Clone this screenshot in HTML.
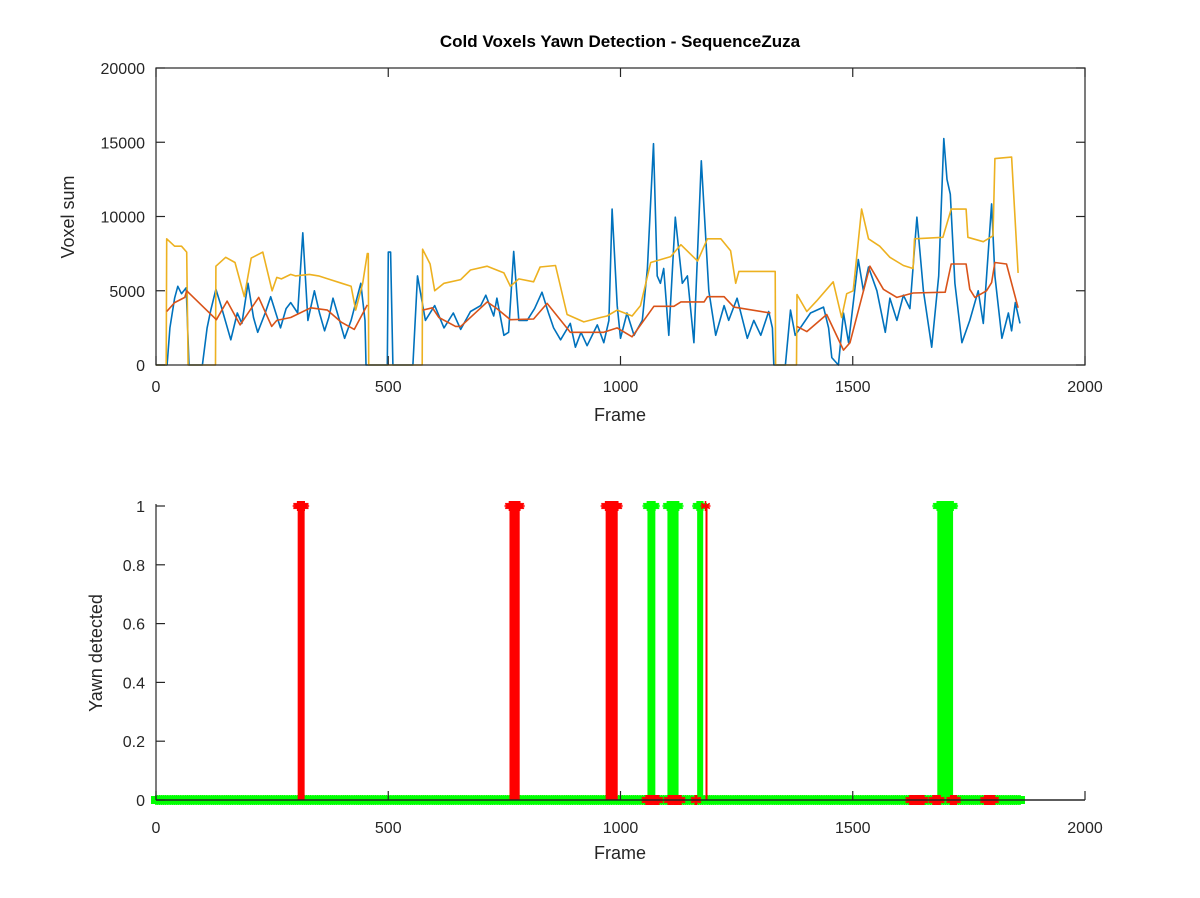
<!DOCTYPE html>
<html><head><meta charset="utf-8"><style>
body{margin:0;background:#fff;}
svg{display:block;font-family:"Liberation Sans",sans-serif;}
</style></head><body>
<svg id="chart" width="1200" height="898" viewBox="0 0 1200 898">
<rect x="0" y="0" width="1200" height="898" fill="#fff"/>
<text x="620" y="47" text-anchor="middle" font-size="17" font-weight="bold" fill="#000">Cold Voxels Yawn Detection - SequenceZuza</text>
<g id="topPlot"></g>
<g id="botPlot"></g>
</svg>
<script>
// ---- top plot data (frame, value) ----
const blueFrames=[0,24,30,40,47,55,65,71,100,110,118,129,140,161,175,185,198,210,219,235,247,258,268,280,290,305,316,327,341,352,363,372,381,395,406,420,441,450,452,498,500,505,510,553,563,580,600,620,640,656,677,699,710,727,734,749,759,770,781,799,815,831,845,856,871,892,903,915,928,950,964,975,982,993,1000,1014,1029,1047,1058,1071,1079,1086,1093,1104,1118,1133,1144,1158,1174,1190,1205,1223,1233,1251,1273,1287,1302,1319,1327,1330,1355,1366,1376,1387,1409,1437,1448,1455,1469,1480,1491,1512,1523,1534,1552,1570,1580,1595,1609,1623,1638,1652,1670,1685,1696,1703,1710,1720,1735,1752,1770,1781,1799,1806,1821,1835,1842,1850,1860];
const blueValues=[0,0,2500,4500,5300,4800,5200,0,0,2500,3700,5100,4000,1700,3500,2800,5500,3200,2200,3500,4600,3500,2500,3800,4200,3500,8900,3000,5000,3500,2300,3200,4500,3000,1800,3000,5500,3000,0,0,7600,7600,0,0,6000,3000,4000,2500,3500,2400,3600,4000,4700,3300,4500,2000,2200,7650,3000,3000,3800,4900,3500,2500,1700,2800,1200,2200,1300,2700,1500,3000,10500,4000,1800,3500,2000,3000,6500,14900,6000,5500,6500,2000,9950,5500,6000,1500,13750,5000,2000,4000,3000,4500,1800,3000,2000,3600,2500,0,0,3700,2000,2500,3500,3900,2500,500,0,3500,1500,7100,5000,6600,5000,2200,4500,3000,4700,3800,9950,5000,1200,6000,15250,12500,11500,5500,1500,3000,5000,2800,10850,6000,1800,3500,2300,4200,2800];
const yelFrames=[0,22,23,40,55,66,69,128,129,150,170,190,205,230,250,260,270,290,300,330,350,370,400,420,430,445,455,457,458,573,574,590,600,620,656,677,713,749,763,781,813,827,860,885,921,957,971,993,1025,1043,1065,1108,1130,1166,1187,1216,1237,1248,1255,1323,1333,1334,1379,1380,1401,1422,1458,1476,1487,1501,1519,1534,1558,1580,1609,1630,1633,1694,1712,1744,1748,1781,1802,1806,1842,1856];
const yelValues=[0,0,8500,8000,8000,7600,0,0,6650,7250,6900,4600,7200,7600,5000,5900,5800,6100,6000,6100,6000,5800,5500,5300,3700,5500,7500,7500,0,0,7800,6800,5000,5500,5750,6400,6650,6200,5300,5800,5600,6600,6700,3400,2900,3200,3300,3700,3300,4000,6900,7300,8100,7000,8500,8500,7700,5500,6300,6300,6300,0,0,4750,3600,4300,5600,3200,4800,5000,10500,8500,8000,7250,6700,6500,8500,8600,10500,10500,8600,8300,8700,13900,14000,6200];
const redFrames=[23,40,62,66,130,153,181,221,249,260,290,333,369,398,427,455,null,574,595,609,645,656,713,734,763,813,842,892,964,993,1025,1072,1115,1130,1180,1187,1223,1244,1323,null,1380,1401,1444,1480,1494,1537,1566,1595,1630,1699,1712,1744,1752,1763,1788,1799,1806,1831,1856];
const redValues=[3600,4200,4550,5000,3050,4300,2700,4550,2600,3000,3200,3850,3700,2900,2400,4050,null,3700,3850,3200,2600,2600,4250,3800,3050,3100,4150,2200,2200,2500,1900,3950,3950,4250,4250,4600,4600,3900,3500,null,2600,2250,3400,1000,1500,6650,5100,4550,4850,4900,6800,6800,5100,4550,5000,5550,6900,6800,3850];
const xTicks=[0,500,1000,1500,2000];
const yTicksTop=[0,5000,10000,15000,20000];
// ---- bottom plot data (frame ranges) ----
const greenOnes=[[1058,1075],[1101,1125],[1165,1178],[1682,1716]];
const redOnes=[[305,320],[761,783],[968,994],[1183,1184]];
const redZeroStars=[[1055,1083],[1103,1130],[1161,1166],[1623,1654],[1673,1689],[1711,1725],[1784,1805]];
const frameMax=1860;
const yTicksBot=[0,0.2,0.4,0.6,0.8,1];

const NS="http://www.w3.org/2000/svg";
function mk(p,tag,a){const e=document.createElementNS(NS,tag);for(const k in a)e.setAttribute(k,a[k]);p.appendChild(e);return e;}
const L=156,R=1085;
const xs=f=>L+(f/2000)*(R-L);
const T1=68,B1=365;
const ys1=v=>B1-(v/20000)*(B1-T1);
const T2=506,B2=800;
const ys2=v=>B2-v*(B2-T2);
const topG=document.getElementById('topPlot'),botG=document.getElementById('botPlot');
const AX="#262626";

function line(g,fr,vals,color,name){
  let d="",pen=false;
  for(let i=0;i<fr.length;i++){
    if(fr[i]===null){pen=false;continue;}
    d+=(pen?"L":"M")+xs(fr[i]).toFixed(1)+","+ys1(vals[i]).toFixed(1);pen=true;
  }
  const p=mk(g,'path',{d:d,fill:'none',stroke:color,'stroke-width':1.6,'stroke-linejoin':'round'});
  
  
}
line(topG,blueFrames,blueValues,'#0072BD','voxel-sum-line');
line(topG,yelFrames,yelValues,'#EDB120','upper-threshold-line');
line(topG,redFrames,redValues,'#D95319','moving-average-line');

const box=mk(topG,'rect',{x:L,y:T1,width:R-L,height:B1-T1,fill:'none',stroke:AX,'stroke-width':1.2});


xTicks.forEach(t=>{
  const x=xs(t);
  mk(topG,'line',{x1:x,y1:B1,x2:x,y2:B1-9,stroke:AX,'stroke-width':1.2});
  mk(topG,'line',{x1:x,y1:T1,x2:x,y2:T1+9,stroke:AX,'stroke-width':1.2});
  const tx=mk(topG,'text',{x:x,y:B1+27,'text-anchor':'middle','font-size':16,fill:AX});
  tx.textContent=t;
  
  
});
yTicksTop.forEach(t=>{
  const y=ys1(t);
  mk(topG,'line',{x1:L,y1:y,x2:L+9,y2:y,stroke:AX,'stroke-width':1.2});
  mk(topG,'line',{x1:R,y1:y,x2:R-9,y2:y,stroke:AX,'stroke-width':1.2});
  const tx=mk(topG,'text',{x:145,y:y+6,'text-anchor':'end','font-size':16,fill:AX});
  tx.textContent=t;
  
  
});
const t1=mk(topG,'text',{x:620,y:421,'text-anchor':'middle','font-size':18,fill:AX});t1.textContent='Frame';


const t2=mk(topG,'text',{x:0,y:0,'text-anchor':'middle','font-size':18,fill:AX,transform:'translate(74,217) rotate(-90)'});t2.textContent='Voxel sum';



// ---- bottom plot ----
function star(g,x,y,c){
  const r=5,d=[];
  for(let k=0;k<3;k++){const a=Math.PI/6+k*Math.PI/3;d.push(`M${x-r*Math.cos(a)},${y-r*Math.sin(a)}L${x+r*Math.cos(a)},${y+r*Math.sin(a)}`);}
  d.push(`M${x-r},${y}L${x+r},${y}`);
  mk(g,'path',{d:d.join(''),stroke:c,'stroke-width':1.6,fill:'none'});
}
const G='#00FF00',RD='#FF0000';
const band=mk(botG,'rect',{x:xs(0)-5,y:B2-4,width:xs(frameMax)-xs(0)+10,height:8,fill:G});


for(let f=0;f<=frameMax;f+=4) star(botG,xs(f),B2,G);
greenOnes.forEach(r=>{
  const b=mk(botG,'rect',{x:xs(r[0]),y:T2,width:Math.max(2,xs(r[1])-xs(r[0])),height:B2-T2,fill:G});
  
  
  for(let f=r[0];f<=r[1];f+=2) star(botG,xs(f),T2,G);
});
redZeroStars.forEach(r=>{for(let f=r[0];f<=r[1];f+=3) star(botG,xs(f),B2,RD);});
redOnes.forEach(r=>{
  const b=mk(botG,'rect',{x:xs(r[0]),y:T2,width:Math.max(2,xs(r[1])-xs(r[0])),height:B2-T2,fill:RD});
  
  
  for(let f=r[0];f<=r[1];f+=2) star(botG,xs(f),T2,RD);
});
mk(botG,'line',{x1:L,y1:T2-2,x2:L,y2:B2,stroke:AX,'stroke-width':1.2});
mk(botG,'line',{x1:L,y1:B2,x2:R,y2:B2,stroke:AX,'stroke-width':1.6});
xTicks.forEach(t=>{
  const x=xs(t);
  mk(botG,'line',{x1:x,y1:B2,x2:x,y2:B2-9,stroke:AX,'stroke-width':1.2});
  const tx=mk(botG,'text',{x:x,y:B2+33,'text-anchor':'middle','font-size':16,fill:AX});
  tx.textContent=t;
  
  
});
yTicksBot.forEach(t=>{
  const y=ys2(t);
  mk(botG,'line',{x1:L,y1:y,x2:L+9,y2:y,stroke:AX,'stroke-width':1.2});
  const tx=mk(botG,'text',{x:145,y:y+6,'text-anchor':'end','font-size':16,fill:AX});
  tx.textContent=t;
  
  
});
const t3=mk(botG,'text',{x:620,y:859,'text-anchor':'middle','font-size':18,fill:AX});t3.textContent='Frame';


const t4=mk(botG,'text',{x:0,y:0,'text-anchor':'middle','font-size':18,fill:AX,transform:'translate(102,653) rotate(-90)'});t4.textContent='Yawn detected';


</script>
</body></html>
